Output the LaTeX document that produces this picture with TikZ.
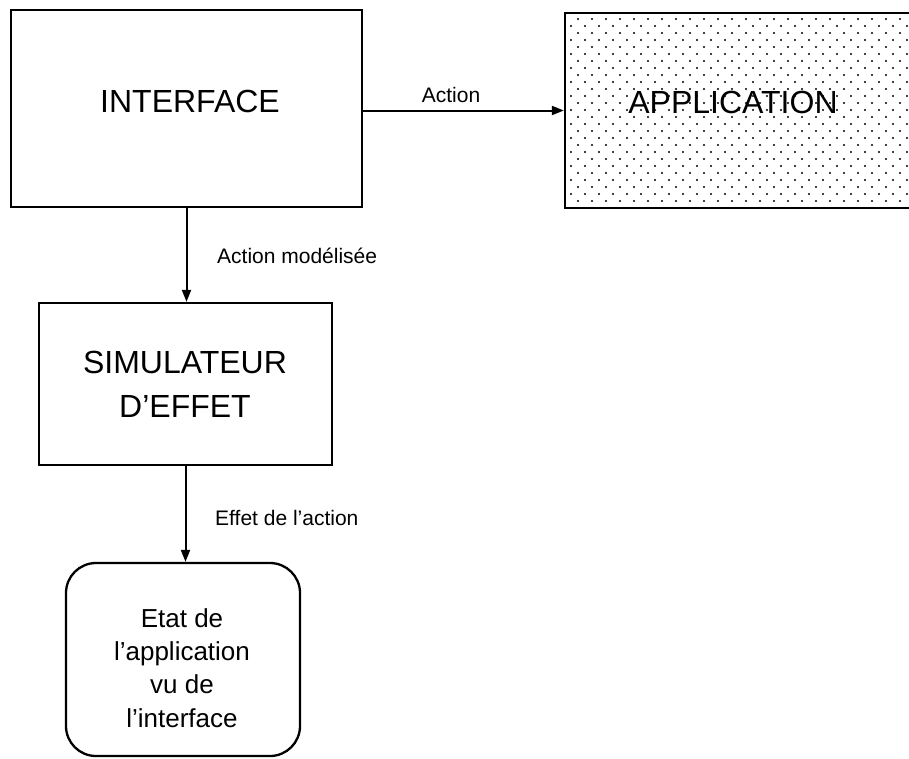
\documentclass[tikz,border=0pt]{standalone}
\usepackage{fontspec}
\setmainfont{Liberation Sans}
\usetikzlibrary{arrows.meta}
\begin{document}
\begin{tikzpicture}[x=1pt,y=-1pt,
  box/.style={draw, line width=2.3pt, inner sep=0pt},
  arr/.style={line width=2pt, -{Triangle[length=12pt,width=9pt]}},
  big/.style={font=\fontsize{32}{38}\selectfont, inner sep=0pt},
  mid/.style={font=\fontsize{26}{31}\selectfont, inner sep=0pt},
  small/.style={font=\fontsize{21}{25}\selectfont, inner sep=0pt}]
\useasboundingbox (0,0) rectangle (909,758);
\clip (0,0) rectangle (909,758);
% boxes
\node[box, minimum width=351pt, minimum height=197pt] (iface) at (186.5,108.5) {};
\node[box, minimum width=293pt, minimum height=162pt] (sim) at (185.5,384) {};
\node[box, rounded corners=30pt, minimum width=234pt, minimum height=193pt] (etat) at (183,659.5) {};
% application with dots
\begin{scope}
  \clip (566,14) rectangle (915,207);
  \foreach \i in {0,...,25}{
    \foreach \j in {0,...,14}{
      \fill ({578+14*\i},{19+14*\j}) circle (1.2pt);
      \fill ({571+14*\i},{26+14*\j}) circle (1.2pt);
    }
  }
\end{scope}
\node[box, minimum width=352pt, minimum height=195pt] (app) at (741,110.5) {};
% texts inside boxes
\node[big, anchor=base] (t1) at (190,112) {INTERFACE};
\node[big, anchor=base] (t2) at (733,113) {APPLICATION};
\node[big, anchor=base] (t3) at (185,373) {SIMULATEUR};
\node[big, anchor=base] (t4) at (185,417) {D’EFFET};
\node[mid, anchor=base] (e1) at (182,627) {Etat de};
\node[mid, anchor=base] (e2) at (182,660) {l’application};
\node[mid, anchor=base] (e3) at (182,693) {vu de};
\node[mid, anchor=base] (e4) at (182,727) {l’interface};
% connectors
\draw[arr] (iface.east |- app.west) -- (app.west);
\draw[arr] (iface.south) -- (iface.south |- sim.north);
\draw[arr] (sim.south) -- (sim.south |- etat.north);
% labels
\node[small, anchor=base] (l1) at (451,102) {Action};
\node[small, anchor=base west] (l2) at (217,263) {Action modélisée};
\node[small, anchor=base west] (l3) at (215,525) {Effet de l’action};
\end{tikzpicture}
\end{document}
